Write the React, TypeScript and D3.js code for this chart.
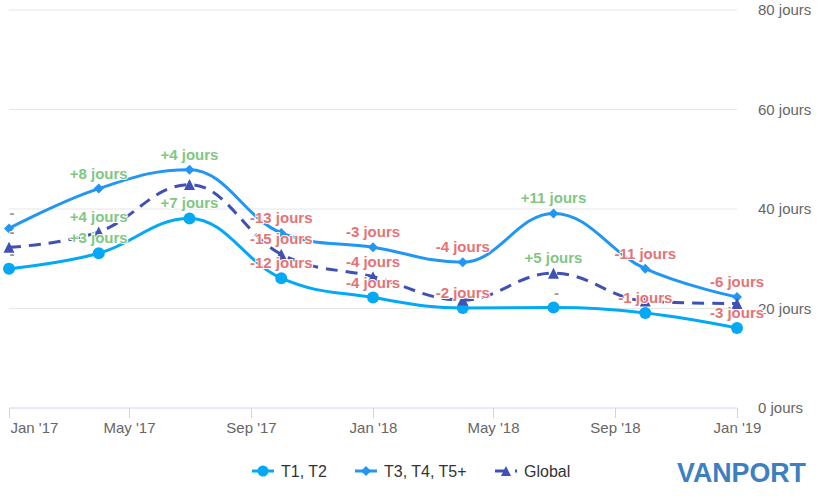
import React from "react";
import * as d3 from "d3";

// ---- data ----
const dates = ["2017-01-01", "2017-04-01", "2017-07-01", "2017-10-01", "2018-01-01", "2018-04-01", "2018-07-01", "2018-10-01", "2019-01-01"];
const t1Values = [28, 31.1, 38.1, 26.1, 22.2, 20.1, 20.2, 19.1, 16.1];
const t3Values = [36.1, 44.1, 47.9, 35.2, 32.3, 29.3, 39.1, 28.0, 22.3];
const globalValues = [32.3, 35.4, 44.9, 30.9, 26.4, 21.7, 27.1, 21.5, 21.0];
const t1Labels = ["-", "+3 jours", "+7 jours", "-12 jours", "-4 jours", "-2 jours", "-", "-1 jours", "-3 jours"];
const t3Labels = ["-", "+8 jours", "+4 jours", "-13 jours", "-3 jours", "-4 jours", "+11 jours", "-11 jours", "-6 jours"];
const globalLabels = ["-", "+4 jours", null, "-15 jours", "-4 jours", null, "+5 jours", null, null];
const seriesNames = ["T1, T2", "T3, T4, T5+", "Global"];
const tickDates = ["2017-01-01", "2017-05-01", "2017-09-01", "2018-01-01", "2018-05-01", "2018-09-01", "2019-01-01"];
const tickLabels = ["Jan '17", "May '17", "Sep '17", "Jan '18", "May '18", "Sep '18", "Jan '19"];
const yTicks = [0, 20, 40, 60, 80];

const parse = d3.utcParse("%Y-%m-%d");

// Highcharts-like spline curve for d3.line
function curveHCSpline(context: any) {
  let pts: [number, number][] = [];
  return {
    areaStart() {},
    areaEnd() {},
    lineStart() { pts = []; },
    point(x: number, y: number) { pts.push([+x, +y]); },
    lineEnd() {
      const n = pts.length;
      if (!n) return;
      const left: [number, number][] = pts.map((p) => [p[0], p[1]]);
      const right: [number, number][] = pts.map((p) => [p[0], p[1]]);
      const s = 1.5, den = 2.5;
      for (let i = 1; i < n - 1; i++) {
        const [lx, ly] = pts[i - 1];
        const [px, py] = pts[i];
        const [nx, ny] = pts[i + 1];
        const lcx = (s * px + lx) / den;
        let lcy = (s * py + ly) / den;
        const rcx = (s * px + nx) / den;
        let rcy = (s * py + ny) / den;
        if (rcx !== lcx) {
          const corr = ((rcy - lcy) * (rcx - px)) / (rcx - lcx) + py - rcy;
          lcy += corr;
          rcy += corr;
        }
        if (lcy > ly && lcy > py) { lcy = Math.max(ly, py); rcy = 2 * py - lcy; }
        else if (lcy < ly && lcy < py) { lcy = Math.min(ly, py); rcy = 2 * py - lcy; }
        if (rcy > ny && rcy > py) { rcy = Math.max(ny, py); lcy = 2 * py - rcy; }
        else if (rcy < ny && rcy < py) { rcy = Math.min(ny, py); lcy = 2 * py - rcy; }
        left[i] = [lcx, lcy];
        right[i] = [rcx, rcy];
      }
      context.moveTo(pts[0][0], pts[0][1]);
      for (let i = 1; i < n; i++) {
        context.bezierCurveTo(right[i - 1][0], right[i - 1][1], left[i][0], left[i][1], pts[i][0], pts[i][1]);
      }
    },
  };
}

const FONT = "'Liberation Sans', Arial, Helvetica, sans-serif";

function markerPath(kind: string, x: number, y: number, r: number) {
  if (kind === "circle") {
    return `M ${x - r} ${y} a ${r} ${r} 0 1 0 ${2 * r} 0 a ${r} ${r} 0 1 0 ${-2 * r} 0 Z`;
  }
  if (kind === "diamond") {
    return `M ${x} ${y - r} L ${x + r} ${y} L ${x} ${y + r} L ${x - r} ${y} Z`;
  }
  return `M ${x} ${y - r} L ${x + r} ${y + r} L ${x - r} ${y + r} Z`;
}

export default function App() {
  const W = 826, H = 503;
  const x = d3.scaleUtc().domain([parse("2017-01-01")!, parse("2019-01-01")!]).range([9, 737]);
  const y = d3.scaleLinear().domain([0, 80]).range([408, 10]);

  const series = [
    { name: seriesNames[0], values: t1Values, labels: t1Labels, color: "#03a9f4", marker: "circle", r: 6, dash: null as string | null },
    { name: seriesNames[1], values: t3Values, labels: t3Labels, color: "#2196f3", marker: "diamond", r: 5, dash: null },
    { name: seriesNames[2], values: globalValues, labels: globalLabels, color: "#3f51b5", marker: "triangle", r: 5.5, dash: "12,8" },
  ];

  const line = d3
    .line<[Date, number]>()
    .x((d) => x(d[0]))
    .y((d) => y(d[1]))
    .curve(curveHCSpline as any);

  const parsedDates = dates.map((d) => parse(d)!);

  const labelColor = (t: string) => (t.startsWith("+") ? "#81c784" : t === "-" ? "#999999" : "#e57373");

  const legendItems = [
    { sx: 252, tx: 281 },
    { sx: 355, tx: 384 },
    { sx: 495, tx: 524 },
  ];

  return (
    <svg width={W} height={H} style={{ position: "absolute", left: 0, top: 0, background: "#fff" }} fontFamily={FONT}>
      {/* grid */}
      {yTicks.filter((v) => v > 0).map((v) => (
        <line key={v} x1={9} x2={737} y1={y(v)} y2={y(v)} stroke="#e6e6e6" strokeWidth={1} />
      ))}
      {/* y labels */}
      {yTicks.map((v) => (
        <text key={v} x={758} y={y(v) + 5} fontSize={15} fill="#666666">{`${v} jours`}</text>
      ))}
      {/* x axis */}
      <line x1={9} x2={737} y1={408} y2={408} stroke="#ccd6eb" strokeWidth={1} />
      {tickDates.map((d, i) => {
        const tx = Math.round(x(parse(d)!)) + 0.5;
        return (
          <g key={d}>
            <line x1={tx} x2={tx} y1={408} y2={418} stroke="#ccd6eb" strokeWidth={1} />
            <text x={i === 0 ? tx + 1 : tx} y={433} fontSize={15} fill="#666666" textAnchor={i === 0 ? "start" : "middle"}>
              {tickLabels[i]}
            </text>
          </g>
        );
      })}
      {/* series lines */}
      {series.map((s) => {
        const data = parsedDates.map((d, i) => [d, s.values[i]] as [Date, number]);
        return (
          <path key={s.name} d={line(data) || ""} fill="none" stroke={s.color} strokeWidth={3}
            strokeDasharray={s.dash || undefined} strokeLinecap={s.dash ? "butt" : "round"} strokeLinejoin="round" />
        );
      })}
      {/* markers */}
      {series.map((s) =>
        parsedDates.map((d, i) => (
          <path key={s.name + i} d={markerPath(s.marker, x(d), y(s.values[i]), s.r)} fill={s.color} />
        ))
      )}
      {/* data labels */}
      {series.map((s) =>
        parsedDates.map((d, i) => {
          const t = s.labels[i];
          if (!t) return null;
          const px = x(d);
          return (
            <text key={s.name + "l" + i} x={t === "-" ? px + 3 : px} y={y(s.values[i]) - 10} fontSize={15} fontWeight="bold"
              textAnchor="middle" fill={labelColor(t)} stroke="#ffffff" strokeWidth={2} strokeLinejoin="round"
              style={{ paintOrder: "stroke" }}>
              {t}
            </text>
          );
        })
      )}
      {/* legend */}
      {series.map((s, i) => {
        const it = legendItems[i];
        const cy = 471;
        return (
          <g key={"lg" + i}>
            <line x1={it.sx} x2={it.sx + 22} y1={cy} y2={cy} stroke={s.color} strokeWidth={3}
              strokeDasharray={s.dash || undefined} />
            <path d={markerPath(s.marker, it.sx + 11, cy, s.marker === "circle" ? 5.5 : 5)} fill={s.color} />
            <text x={it.tx} y={cy + 6} fontSize={16} fill="#333333">{s.name}</text>
          </g>
        );
      })}
      {/* logo */}
      <text x={677} y={482} fontSize={27} fontWeight="bold" fill="#3d80c2" textLength={129} lengthAdjust="spacingAndGlyphs"
        fontFamily="'Liberation Sans', Arial, sans-serif">
        VANPORT
      </text>
    </svg>
  );
}
